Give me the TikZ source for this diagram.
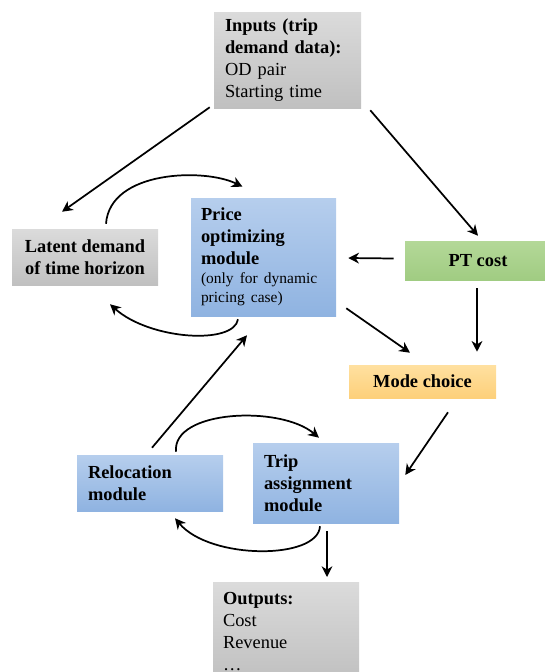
\documentclass[tikz,border=0pt]{standalone}
\usepackage{fontspec}
\setmainfont{Liberation Serif}
\usetikzlibrary{positioning, calc, arrows.meta}

\definecolor{greytop}{RGB}{219,219,219}
\definecolor{greybot}{RGB}{192,192,192}
\definecolor{bluetop}{RGB}{182,206,237}
\definecolor{bluebot}{RGB}{143,179,225}
\definecolor{greentop}{RGB}{180,216,152}
\definecolor{greenbot}{RGB}{160,204,130}
\definecolor{modetop}{RGB}{255,224,160}
\definecolor{modebot}{RGB}{253,208,122}

\begin{document}
\begin{tikzpicture}[x=0.75pt, y=-0.75pt,
    box/.style={rectangle, inner sep=0pt, font=\fontsize{13.8pt}{16.5pt}\selectfont},
    greybox/.style={box, top color=greytop, bottom color=greybot},
    bluebox/.style={box, top color=bluetop, bottom color=bluebot},
    greenbox/.style={box, top color=greentop, bottom color=greenbot},
    modebox/.style={box, top color=modetop, bottom color=modebot},
    arr/.style={-{Stealth[length=8pt, width=8pt, inset=2.5pt]}, line width=1.3pt}]
    \useasboundingbox (0,0) rectangle (544,672);

    % Boxes
    \node[greybox, minimum width=110.25pt, minimum height=72pt, inner xsep=8.25pt,
        text width=93.75pt, align=left] (inputs) at (287.5,60)
        {\textbf{Inputs (trip}\\\textbf{demand data):}\\OD pair\\Starting time};
    \node[greybox, minimum width=109.5pt, minimum height=42pt, align=center] (latent) at (85,257)
        {\textbf{Latent demand}\\\textbf{of time horizon}};
    \node[bluebox, minimum width=108.75pt, minimum height=88.5pt, inner xsep=7.5pt,
        text width=93.75pt, align=left] (price) at (263.5,257)
        {\textbf{Price\\optimizing\\module}\par
         {\fontsize{11.6pt}{14.3pt}\selectfont (only for dynamic\\pricing case)\par}};
    \node[greenbox, minimum width=109.5pt, minimum height=29.25pt] (pt) at (478,260.5)
        {\textbf{PT cost}};
    \node[modebox, minimum width=110.25pt, minimum height=24.75pt] (mode) at (422.5,381.5)
        {\textbf{Mode choice}};
    \node[bluebox, minimum width=109.5pt, minimum height=42pt, inner xsep=8.25pt,
        text width=93pt, align=left] (reloc) at (150,483)
        {\textbf{Relocation\\module}};
    \node[bluebox, minimum width=109.5pt, minimum height=60pt, inner xsep=8.25pt,
        text width=93pt, align=left] (trip) at (326,483)
        {\textbf{Trip\\assignment\\module}};
    \node[greybox, anchor=north, minimum width=109.5pt, inner xsep=7.5pt, inner ysep=7.5pt,
        text width=94.5pt, align=left] (outputs) at (286,582)
        {\textbf{Outputs:}\\Cost\\Revenue\\\dots};

    % Straight connectors
    \draw[arr] ($(inputs.south west)+(-4,-1)$) -- ($(latent.north)+(-23,-17)$);
    \draw[arr] ($(inputs.south east)+(9,2)$) -- ($(pt.north)+(0,-5)$);
    \draw[arr] ($(pt.west)+(-11,-2)$) -- ($(price.east)+(12,1)$);
    \draw[arr] ($(pt.south)+(-1,8)$) -- ($(pt.south |- mode.north)+(-1,-13)$);
    \draw[arr] ($(price.south east)+(10,-8)$) -- ($(mode.north)+(-12.5,-12)$);
    \draw[arr] ($(mode.south)+(25.5,14)$) -- ($(trip.east)+(6,-8)$);
    \draw[arr] ($(reloc.north)+(2,-7)$) -- ($(price.south)+(-16.5,19)$);
    \draw[arr] ($(trip.south)+(1,8)$) -- ($(trip.south |- outputs.north)+(1,-5)$);

    % Loops between modules
    \draw[arr] ($(latent.north)+(21,-5)$) .. controls (110,170) and (205,168) .. ($(price.north)+(-21,-11)$);
    \draw[arr] ($(price.south)+(-25.5,3)$) .. controls (234,345) and (150,340) .. ($(latent.south)+(25,19)$);
    \draw[arr] ($(reloc.north)+(26,-3)$) .. controls (172,410) and (280,405) .. ($(trip.north)+(-7,-5)$);
    \draw[arr] ($(trip.south)+(-6,3)$) .. controls (318,560) and (210,560) .. ($(reloc.south)+(25,7)$);
\end{tikzpicture}
\end{document}
